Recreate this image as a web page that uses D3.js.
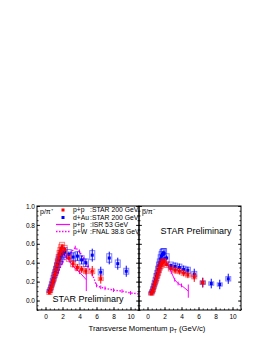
<!DOCTYPE html>
<html>
<head>
<meta charset="utf-8">
<script src="https://cdn.jsdelivr.net/npm/d3@7"></script>
<style>
  body { margin: 0; background: #fff; }
  svg { display: block; font-family: "Liberation Sans", Arial, sans-serif; }
</style>
</head>
<body>
<svg id="chart" width="270" height="349"></svg>
<script>
// --- data ---
const xTicks = [0, 2, 4, 6, 8, 10];
const yTicks = [0.0, 0.2, 0.4, 0.6, 0.8, 1.0];

// p/pi+  (left panel)
const ppPtL   = [0.45,0.55,0.65,0.75,0.85,0.95,1.05,1.15,1.25,1.35,1.45,1.55,1.65,1.75,1.85,1.95,2.25,2.75,3.25,3.75,4.25,4.75,5.5,6.5];
const ppValL  = [0.08,0.10,0.13,0.16,0.19,0.22,0.26,0.29,0.33,0.37,0.41,0.45,0.49,0.52,0.55,0.57,0.54,0.45,0.39,0.35,0.33,0.31,0.31,0.23];
const dauPtL  = [0.45,0.55,0.65,0.75,0.85,0.95,1.05,1.15,1.25,1.35,1.45,1.55,1.65,1.75,1.85,1.95,2.25,2.75,3.25,3.75,4.25,4.75,5.5,6.5,7.5,8.5,9.5];
const dauValL = [0.10,0.12,0.15,0.18,0.21,0.24,0.27,0.30,0.33,0.36,0.39,0.42,0.44,0.46,0.48,0.50,0.51,0.49,0.46,0.47,0.43,0.40,0.48,0.30,0.45,0.39,0.31];
const isrPtL  = [0.6,0.8,1.0,1.2,1.4,1.6,1.8,2.0,2.4,2.8,3.2,3.6,4.0,4.8];
const isrValL = [0.12,0.18,0.24,0.30,0.36,0.42,0.46,0.49,0.47,0.42,0.37,0.33,0.30,0.22];
const fnalPt  = [1.0,1.5,2.0,2.5,3.0,3.5,4.0,4.5,5.0,5.5,6.0,6.5,7.0,8.0,9.0,10.0,11.0];
const fnalVal = [0.20,0.30,0.40,0.46,0.51,0.56,0.52,0.44,0.36,0.28,0.16,0.14,0.13,0.11,0.10,0.08,0.07];

// pbar/pi-  (right panel)
const ppPtR   = ppPtL;
const ppValR  = [0.07,0.09,0.11,0.14,0.17,0.20,0.23,0.26,0.29,0.32,0.35,0.37,0.39,0.40,0.41,0.41,0.38,0.34,0.32,0.31,0.29,0.27,0.25,0.19];
const dauPtR  = dauPtL;
const dauValR = [0.08,0.10,0.13,0.16,0.19,0.22,0.26,0.29,0.33,0.37,0.40,0.44,0.47,0.49,0.50,0.50,0.45,0.37,0.36,0.35,0.33,0.32,0.28,0.19,0.18,0.17,0.23];
const isrPtR  = [0.6,0.8,1.0,1.2,1.4,1.6,1.8,2.0,2.4,2.8,3.2,3.6,4.0,4.8];
const isrValR = [0.10,0.15,0.21,0.27,0.33,0.38,0.42,0.44,0.38,0.30,0.22,0.18,0.16,0.10];

const legendLabels = [
  ["p+p", ":STAR 200 GeV"],
  ["d+Au", ":STAR 200 GeV"],
  ["p+p", ":ISR 53 GeV"],
  ["p+W", ":FNAL 38.8 GeV"]
];

// --- layout ---
const svg = d3.select("#chart");
const frameTop = 206, frameBottom = 310;
const panels = [
  { x0: 37, x1: 139, label: "p/\u03c0\u207a", star: [88, 302] },
  { x0: 139, x1: 241, label: "p\u0305/\u03c0\u207b", star: [196, 234] }
];
const RED = "#ff0000", BLUE = "#0000ff", MAG = "#ff00ff";

const y = d3.scaleLinear().domain([-0.1, 1.0]).range([frameBottom, frameTop]);
const minorY = d3.range(-0.1, 1.0001, 0.05).map(v => +v.toFixed(2));
const minorX = d3.range(-1, 11.001, 0.5);

function errs(vals, frac, min) {
  return vals.map(v => Math.max(min, v * frac));
}

function drawSeries(g, x, pts, vals, color, statFrac, sysFrac) {
  const stat = errs(vals, statFrac, 0.01);
  const sys = errs(vals, sysFrac, 0.015);
  const d = pts.map((p, i) => ({ p, v: vals[i], s: stat[i] + (p > 5 ? 0.04 : p > 3 ? 0.02 : 0), y: sys[i] }));
  g.selectAll(null).data(d).enter().append("rect")
    .attr("x", e => x(e.p) - 2.5).attr("width", 5)
    .attr("y", e => y(e.v + e.y)).attr("height", e => y(e.v - e.y) - y(e.v + e.y))
    .attr("fill", "none").attr("stroke", color).attr("stroke-opacity", 0.5).attr("stroke-width", 1);
  g.selectAll(null).data(d).enter().append("line")
    .attr("x1", e => x(e.p)).attr("x2", e => x(e.p))
    .attr("y1", e => y(e.v - e.s)).attr("y2", e => y(e.v + e.s))
    .attr("stroke", color).attr("stroke-width", 1);
  g.selectAll(null).data(d).enter().append("rect")
    .attr("x", e => x(e.p) - 1.5).attr("y", e => y(e.v) - 1.5)
    .attr("width", 3).attr("height", 3).attr("fill", color);
}

function drawLine(g, x, pts, vals, dashed, bigErr) {
  const d = pts.map((p, i) => [p, vals[i]]);
  g.append("path").datum(d)
    .attr("d", d3.line().x(e => x(e[0])).y(e => y(e[1])))
    .attr("fill", "none").attr("stroke", MAG).attr("stroke-width", dashed ? 1.4 : 1)
    .attr("stroke-dasharray", dashed ? "1.5,1.5" : null);
  g.selectAll(null).data(d).enter().append("line")
    .attr("x1", e => x(e[0])).attr("x2", e => x(e[0]))
    .attr("y1", e => y(e[1] - (e[0] > 4.5 && bigErr ? bigErr : 0.02)))
    .attr("y2", e => y(e[1] + (e[0] > 4.5 && bigErr ? bigErr : 0.02)))
    .attr("stroke", MAG).attr("stroke-width", 1);
}

panels.forEach((pn, idx) => {
  const x = d3.scaleLinear().domain([-1, 11]).range([pn.x0, pn.x1]);
  const g = svg.append("g");
  const clip = "clip" + idx;
  svg.append("clipPath").attr("id", clip).append("rect")
    .attr("x", pn.x0).attr("y", frameTop).attr("width", pn.x1 - pn.x0).attr("height", frameBottom - frameTop);
  const data = g.append("g").attr("clip-path", `url(#${clip})`);

  if (idx === 0) {
    drawLine(data, x, fnalPt, fnalVal, true, 0);
    drawLine(data, x, isrPtL, isrValL, false, 0.12);
    drawSeries(data, x, dauPtL, dauValL, BLUE, 0.06, 0.1);
    drawSeries(data, x, ppPtL, ppValL, RED, 0.05, 0.08);
  } else {
    drawLine(data, x, isrPtR, isrValR, false, 0.07);
    drawSeries(data, x, dauPtR, dauValR, BLUE, 0.06, 0.1);
    drawSeries(data, x, ppPtR, ppValR, RED, 0.05, 0.08);
  }

  // axes, ROOT style ticks pointing inward
  const xa = d3.axisBottom(x).tickValues(xTicks).tickSize(-3).tickPadding(4).tickFormat(d3.format("d"));
  const xm = d3.axisBottom(x).tickValues(minorX).tickSize(-1.5).tickFormat("");
  g.append("g").attr("transform", `translate(0,${frameBottom})`).call(xa);
  g.append("g").attr("transform", `translate(0,${frameBottom})`).call(xm);
  const ya = d3.axisLeft(y).tickValues(yTicks).tickSize(-3).tickPadding(2).tickFormat(idx === 0 ? d3.format(".1f") : "");
  const ym = d3.axisLeft(y).tickValues(minorY).tickSize(-1.5).tickFormat("");
  g.append("g").attr("transform", `translate(${pn.x0},0)`).call(ya);
  g.append("g").attr("transform", `translate(${pn.x0},0)`).call(ym);
  const yr = d3.axisRight(y).tickValues(yTicks).tickSize(-3).tickFormat("");
  const yrm = d3.axisRight(y).tickValues(minorY).tickSize(-1.5).tickFormat("");
  g.append("g").attr("transform", `translate(${pn.x1},0)`).call(yr);
  g.append("g").attr("transform", `translate(${pn.x1},0)`).call(yrm);
  g.selectAll(".domain").remove();
  g.selectAll(".tick text").attr("font-size", 6.5).attr("fill", "#000");
  g.selectAll(".tick line").attr("stroke", "#000").attr("stroke-width", 0.8);

  g.append("rect").attr("x", pn.x0).attr("y", frameTop)
    .attr("width", pn.x1 - pn.x0).attr("height", frameBottom - frameTop)
    .attr("fill", "none").attr("stroke", "#000").attr("stroke-width", 1);

  g.append("text").attr("x", pn.x0 + 3).attr("y", frameTop + 7.5)
    .attr("font-size", 7).text(pn.label);
  g.append("text").attr("x", pn.star[0]).attr("y", pn.star[1])
    .attr("text-anchor", "middle").attr("font-size", 9).text("STAR Preliminary");
});

// legend
const leg = svg.append("g");
const rows = [210, 217.5, 224.5, 231.5];
leg.append("rect").attr("x", 61.5).attr("y", rows[0] - 1.5).attr("width", 3).attr("height", 3).attr("fill", RED);
leg.append("rect").attr("x", 61.5).attr("y", rows[1] - 1.5).attr("width", 3).attr("height", 3).attr("fill", BLUE);
leg.append("line").attr("x1", 56).attr("x2", 70).attr("y1", rows[2]).attr("y2", rows[2]).attr("stroke", MAG).attr("stroke-width", 1.2);
leg.append("line").attr("x1", 56).attr("x2", 70).attr("y1", rows[3]).attr("y2", rows[3]).attr("stroke", MAG).attr("stroke-width", 1.4).attr("stroke-dasharray", "1.5,1.5");
legendLabels.forEach((l, i) => {
  leg.append("text").attr("x", 73).attr("y", rows[i] + 2.4).attr("font-size", 6.8).text(l[0]);
  leg.append("text").attr("x", 90).attr("y", rows[i] + 2.4).attr("font-size", 6.8).text(l[1]);
});

// axis title
const t = svg.append("text").attr("x", 147).attr("y", 331).attr("text-anchor", "middle").attr("font-size", 7.7);
t.append("tspan").text("Transverse Momentum p");
t.append("tspan").attr("font-size", 5).attr("dy", 1.5).text("T");
t.append("tspan").attr("dy", -1.5).text(" (GeV/c)");
</script>
</body>
</html>
